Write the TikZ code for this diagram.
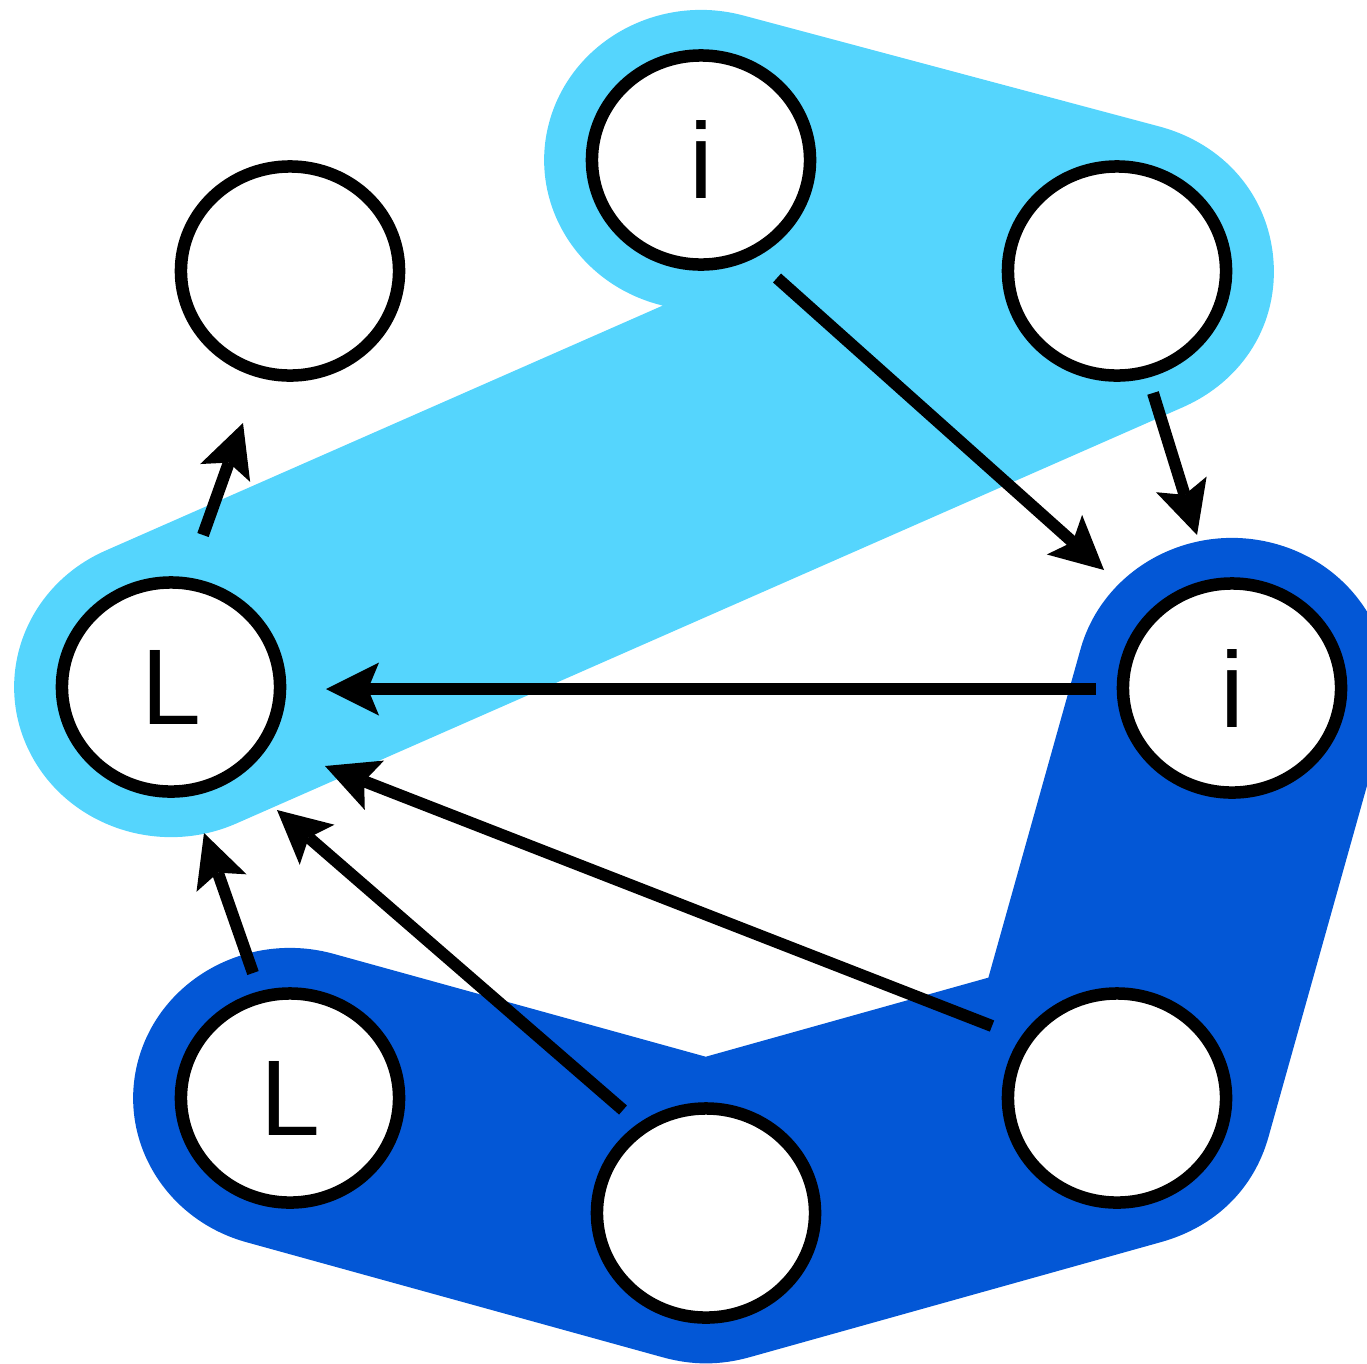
\documentclass[tikz,border=0pt]{standalone}
\usepackage{fontspec}
\setmainfont{Liberation Sans}
\usetikzlibrary{calc,arrows.meta,shapes.geometric,backgrounds}
\definecolor{lightb}{RGB}{85,213,253}
\definecolor{darkb}{RGB}{3,87,214}
\tikzset{
  vtx/.style={ellipse, draw=black, line width=0.125cm, fill=white,
    minimum width=2.18cm, minimum height=2.09cm, inner sep=0pt,
    font=\fontsize{30.6}{36}\selectfont},
  hull/.style={line width=3cm, line cap=round, line join=round},
  arr/.style={line width=0.12cm, line cap=butt,
    -{Stealth[length=0.53cm, width=0.53cm, inset=0.11cm, line width=0pt]}},
}
\begin{document}
\begin{tikzpicture}[x=0.01cm, y=-0.01cm]
\useasboundingbox (0,0) rectangle (1367,1363);
% vertices
\node[vtx] (TL)   at (290,271)  {};
\node[vtx] (topi) at (701,160)  {i};
\node[vtx] (TR)   at (1117,271) {};
\node[vtx] (L)    at (171,687)  {L};
\node[vtx] (Ri)   at (1232,688) {i};
\node[vtx] (BL)   at (290,1098) {L};
\node[vtx] (BC)   at (706,1213) {};
\node[vtx] (BR)   at (1117,1098) {};
% hulls
\begin{scope}[on background layer]
\begin{scope}[transform canvas={xscale=1.045}]
\draw[hull, lightb] let \p1=(L), \p2=(TR), \p3=(topi) in
  (\x1/1.045,\y1) -- (\x2/1.045,\y2) -- (\x3/1.045,\y3);
\draw[hull, darkb] let \p1=(BL), \p2=(BC), \p3=(BR), \p4=(Ri) in
  (\x1/1.045,\y1) -- (\x2/1.045,\y2) -- (\x3/1.045,\y3) -- (\x4/1.045,\y4);
\end{scope}
\end{scope}
% arrows
\draw[arr] ($(L)+(32,-152)$) -- ($(TL)+(-47,152)$);
\draw[arr] ($(topi)+(76,118)$) -- ($(Ri)+(-128,-118)$);
\draw[arr] ($(TR)+(36,122)$) -- ($(Ri)+(-35,-153)$);
\draw[arr] ($(Ri)+(-136,1)$) -- ($(L)+(155,2)$);
\draw[arr] ($(BR)+(-125,-72)$) -- ($(L)+(154,79)$);
\draw[arr] ($(BC)+(-83,-103)$) -- ($(L)+(106,123)$);
\draw[arr] ($(BL)+(-37,-125)$) -- ($(L)+(33,146)$);
\end{tikzpicture}
\end{document}
